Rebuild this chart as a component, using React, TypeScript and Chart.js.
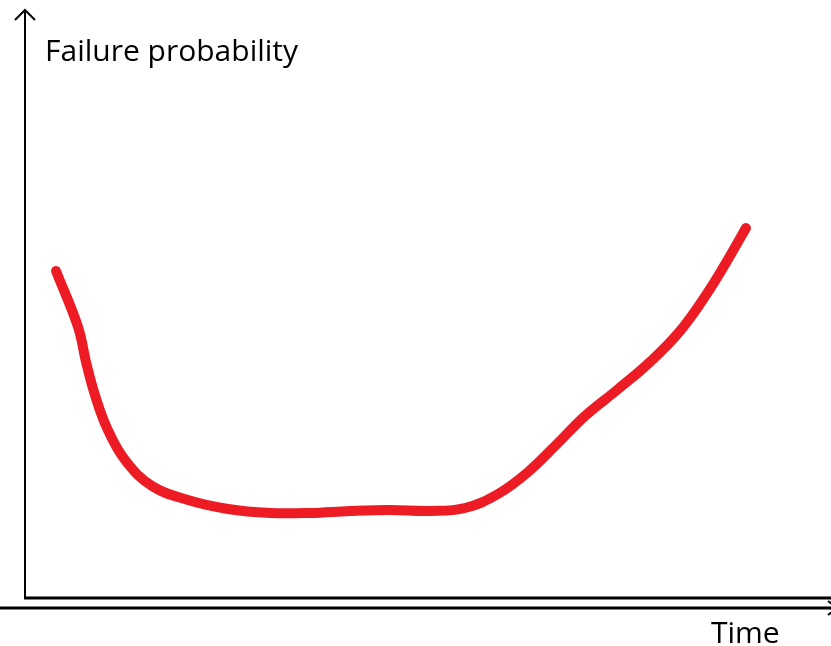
import React, { useEffect, useRef } from "react";
import { Chart, registerables } from "chart.js";

Chart.register(...registerables);

// Bathtub curve (time 0..100, failure probability 0..100)
const timeValues = [3.85, 6.58, 7.57, 8.68, 10.17, 12.41, 15.76, 20.22, 25.19, 30.4, 35.36, 40.32, 45.29, 50.25, 54.59, 58.68, 62.41, 65.88, 69.48, 73.45, 77.54, 81.27, 84.74, 87.1, 89.45];
const probabilityValues = [55.61, 46.09, 40.14, 34.52, 28.91, 23.47, 19.05, 16.67, 15.14, 14.46, 14.46, 14.8, 14.97, 14.8, 15.31, 17.69, 21.43, 26.02, 30.95, 35.37, 40.14, 45.41, 52.04, 57.31, 62.93];
const yAxisLabel = "Failure probability";
const xAxisLabel = "Time";

const axesPlugin = {
  id: "sketchAxes",
  afterDraw(chart: any) {
    const { ctx, chartArea, width } = chart;
    const { left, top, bottom } = chartArea;
    ctx.save();
    ctx.strokeStyle = "#000";
    ctx.fillStyle = "#000";
    ctx.lineWidth = 2;
    ctx.lineCap = "butt";
    // vertical axis with arrow
    ctx.beginPath();
    ctx.moveTo(left, bottom);
    ctx.lineTo(left, top);
    ctx.stroke();
    ctx.beginPath();
    ctx.moveTo(left - 10, top + 10);
    ctx.lineTo(left, top);
    ctx.lineTo(left + 10, top + 10);
    ctx.stroke();
    // inner horizontal axis
    ctx.lineWidth = 3;
    ctx.beginPath();
    ctx.moveTo(left - 1, bottom);
    ctx.lineTo(width, bottom);
    ctx.stroke();
    // outer horizontal axis with arrow (cut at the edge)
    ctx.beginPath();
    ctx.moveTo(0, bottom + 10);
    ctx.lineTo(width, bottom + 10);
    ctx.stroke();
    ctx.lineWidth = 2;
    ctx.beginPath();
    ctx.moveTo(width - 3, bottom + 3);
    ctx.lineTo(width + 6, bottom + 10);
    ctx.lineTo(width - 3, bottom + 17);
    ctx.stroke();
    // labels
    ctx.font = '30px "Open Sans", "Noto Sans", sans-serif';
    ctx.textBaseline = "alphabetic";
    ctx.textAlign = "left";
    ctx.fillText(yAxisLabel, left + 20, 61);
    ctx.fillText(xAxisLabel, 711, 643);
    ctx.restore();
  },
};

export default function App() {
  const ref = useRef<HTMLCanvasElement>(null);
  useEffect(() => {
    if (!ref.current) return;
    const chart = new Chart(ref.current, {
      type: "line",
      data: {
        datasets: [
          {
            data: timeValues.map((t, i) => ({ x: t, y: probabilityValues[i] })),
            borderColor: "#ED1C24",
            borderWidth: 10,
            borderCapStyle: "round",
            borderJoinStyle: "round",
            pointRadius: 0,
            tension: 0.4,
            fill: false,
          },
        ],
      },
      options: {
        animation: false,
        responsive: false,
        maintainAspectRatio: false,
        layout: { padding: { left: 25, top: 10, right: 0, bottom: 48 } },
        plugins: { legend: { display: false }, tooltip: { enabled: false } },
        scales: {
          x: { type: "linear", min: 0, max: 100, display: false },
          y: { type: "linear", min: 0, max: 100, display: false },
        },
      },
      plugins: [axesPlugin],
    });
    return () => chart.destroy();
  }, []);
  return (
    <div style={{ position: "fixed", left: 0, top: 0, width: 831, height: 646, background: "#fff" }}>
      <canvas ref={ref} width={831} height={646} />
    </div>
  );
}
